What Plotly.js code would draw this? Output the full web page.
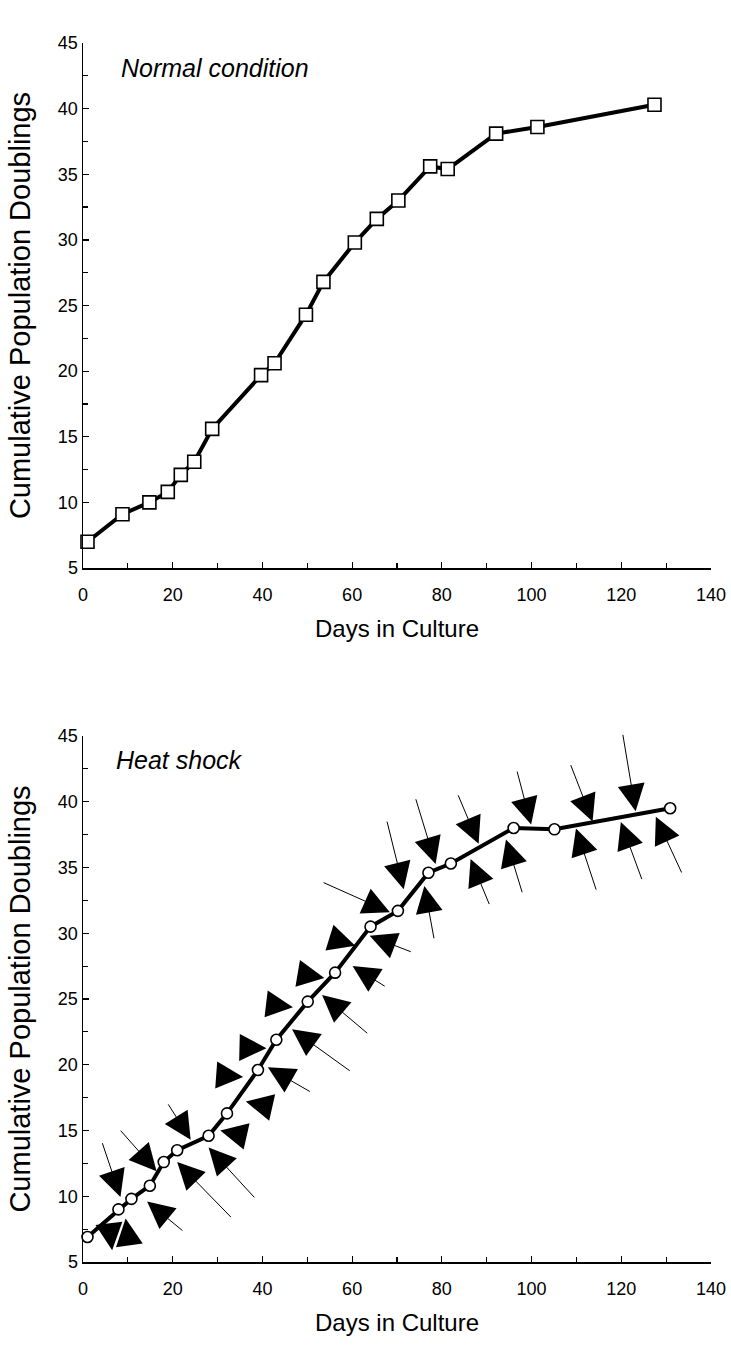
<!DOCTYPE html>
<html>
<head>
<meta charset="utf-8">
<script src="https://cdn.plot.ly/plotly-3.0.1.min.js"></script>
<style>
  html, body { margin: 0; padding: 0; background: #fff; }
  #chart { width: 731px; height: 1371px; }
</style>
</head>
<body>
<div id="chart"></div>
<script>
// ---- Data: Normal condition ----
const normalDays = [1, 8.8, 14.8, 18.9, 21.8, 24.8, 28.8, 39.7, 42.7, 49.7, 53.6, 60.6, 65.5, 70.3, 77.4, 81.3, 92.1, 101.3, 127.4];
const normalPD   = [7.0, 9.1, 10.0, 10.8, 12.1, 13.1, 15.6, 19.7, 20.6, 24.3, 26.8, 29.8, 31.6, 33.0, 35.6, 35.4, 38.1, 38.6, 40.3];

// ---- Data: Heat shock ----
const heatDays = [1, 7.9, 10.8, 14.9, 18.0, 21.0, 28.0, 32.1, 39.0, 43.1, 50.1, 56.2, 64.1, 70.2, 77.0, 82.0, 96.0, 105.1, 130.9];
const heatPD   = [6.9, 9.0, 9.8, 10.8, 12.6, 13.5, 14.6, 16.3, 19.6, 21.9, 24.8, 27.0, 30.5, 31.7, 34.6, 35.3, 38.0, 37.9, 39.5];

// ---- Heat-shock arrows (tip and tail, in data units) ----
const arrowTipDay  = [8.35, 9.5, 6.5, 16.4, 14.3, 24.0, 21.0, 28.0, 30.6, 36.3, 35.7, 41.2, 40.9, 46.6, 46.8, 53.3, 53.8, 60.1, 60.7, 63.9, 68.4, 71.5, 76.1, 78.6, 88.2, 86.4, 94.3, 99.9, 113.6, 109.9, 123.2, 119.9, 127.7];
const arrowTipPD   = [9.95, 8.3, 5.9, 11.9, 9.6, 14.3, 12.6, 13.7, 15.0, 17.2, 19.07, 19.8, 21.26, 22.7, 24.38, 25.3, 26.6, 27.5, 29.05, 29.8, 31.6, 33.35, 33.6, 35.27, 36.8, 35.65, 37.13, 38.26, 38.5, 37.97, 39.27, 38.45, 38.86];
const arrowTailDay = [4.2, 10.2, 5.9, 8.1, 22.5, 18.8, 33.3, 38.5, 35.8, 41.5, 30.5, 50.9, 35.8, 59.8, 41.4, 63.7, 48.6, 67.6, 55.5, 73.4, 53.3, 67.7, 78.3, 74.1, 83.5, 90.7, 98.0, 96.7, 108.6, 114.5, 120.3, 124.7, 133.6];
const arrowTailPD  = [14.15, 6.6, 7.6, 15.1, 7.3, 17.1, 8.3, 9.8, 14.6, 16.8, 19.2, 17.9, 21.3, 19.46, 24.6, 22.3, 26.9, 25.9, 29.6, 28.55, 33.9, 38.6, 29.5, 40.3, 40.6, 32.1, 33.0, 42.4, 42.9, 33.2, 45.2, 34.0, 34.5];

// ---- Axis ticks ----
const xTickVals = [0, 20, 40, 60, 80, 100, 120, 140];
const yTickVals = [5, 10, 15, 20, 25, 30, 35, 40, 45];

const FONT = 'Liberation Sans, Arial, Helvetica, sans-serif';

const traces = [
  {
    x: normalDays, y: normalPD, xaxis: 'x', yaxis: 'y',
    type: 'scatter', mode: 'lines+markers', cliponaxis: false,
    line: { color: '#000', width: 4 },
    marker: { symbol: 'square', size: 13, color: '#fff', line: { color: '#000', width: 1.6 } },
    hoverinfo: 'x+y'
  },
  {
    x: heatDays, y: heatPD, xaxis: 'x2', yaxis: 'y2',
    type: 'scatter', mode: 'lines+markers', cliponaxis: false,
    line: { color: '#000', width: 4 },
    marker: { symbol: 'circle', size: 11, color: '#fff', line: { color: '#000', width: 1.6 } },
    hoverinfo: 'x+y'
  }
];

function xAxis(anchor) {
  return {
    anchor: anchor, domain: [0, 1], range: [0, 140],
    showgrid: false, zeroline: false,
    showline: true, linecolor: '#000', linewidth: 1.5,
    ticks: 'inside', ticklen: 6, tickwidth: 1.2, tickcolor: '#000',
    tickmode: 'array', tickvals: xTickVals,
    tickfont: { family: FONT, size: 18, color: '#000' },
    ticklabelstandoff: 10,
    minor: { dtick: 10, ticks: 'inside', ticklen: 5, tickwidth: 1.2, tickcolor: '#000', showgrid: false },
    title: { text: 'Days in Culture', font: { family: FONT, size: 24, color: '#000' }, standoff: 16 },
    automargin: false, fixedrange: true
  };
}
function yAxis(anchor, domain) {
  return {
    anchor: anchor, domain: domain, range: [5, 45],
    showgrid: false, zeroline: false,
    showline: true, linecolor: '#000', linewidth: 1.5,
    ticks: 'inside', ticklen: 6, tickwidth: 1.2, tickcolor: '#000',
    tickmode: 'array', tickvals: yTickVals,
    tickfont: { family: FONT, size: 18, color: '#000' },
    minor: { dtick: 2.5, ticks: 'inside', ticklen: 5, tickwidth: 1.2, tickcolor: '#000', showgrid: false },
    title: { text: 'Cumulative Population Doublings', font: { family: FONT, size: 29, color: '#000' }, standoff: 18 },
    automargin: false, fixedrange: true
  };
}

const annotations = [
  {
    xref: 'x', yref: 'y', x: 8, y: 43.1, xanchor: 'left', yanchor: 'middle',
    text: 'Normal condition', showarrow: false,
    font: { family: FONT, size: 25, color: '#000', style: 'italic' }
  },
  {
    xref: 'x2', yref: 'y2', x: 7, y: 43.2, xanchor: 'left', yanchor: 'middle',
    text: 'Heat shock', showarrow: false,
    font: { family: FONT, size: 25, color: '#000', style: 'italic' }
  }
];

for (let i = 0; i < arrowTipDay.length; i++) {
  annotations.push({
    xref: 'x2', yref: 'y2', axref: 'x2', ayref: 'y2',
    x: arrowTipDay[i], y: arrowTipPD[i],
    ax: arrowTailDay[i], ay: arrowTailPD[i],
    text: '', showarrow: true,
    arrowhead: 2, arrowsize: 5.4, arrowwidth: 1, arrowcolor: '#000', standoff: 0
  });
}

const layout = {
  width: 731, height: 1371,
  margin: { l: 83, r: 20, t: 0, b: 0 },
  paper_bgcolor: '#fff', plot_bgcolor: '#fff',
  showlegend: false,
  font: { family: FONT, color: '#000' },
  xaxis: xAxis('y'),
  yaxis: yAxis('x', [0.5857, 0.9686]),
  xaxis2: xAxis('y2'),
  yaxis2: yAxis('x2', [0.0795, 0.4632]),
  annotations: annotations
};

Plotly.newPlot('chart', traces, layout, { displayModeBar: false, staticPlot: true });
</script>
</body>
</html>
